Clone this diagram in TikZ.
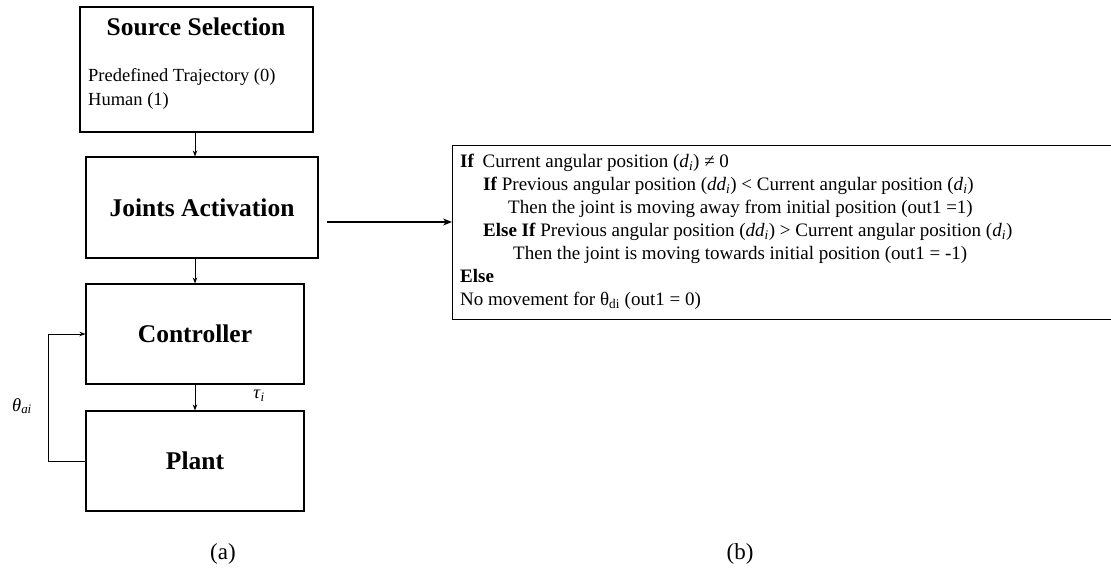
\documentclass[tikz,border=0pt]{standalone}
\usepackage{fontspec}
\setmainfont{Liberation Serif}
\usetikzlibrary{arrows.meta}

\newcommand{\itsub}[2]{\textit{#1}\textsubscript{\textit{#2}}}

\begin{document}
\begin{tikzpicture}[x=1pt,y=-1pt,
  block/.style={draw, line width=1.1pt, inner sep=0pt},
  title/.style={font=\fontsize{25.5}{28}\selectfont\bfseries},
  body/.style={font=\fontsize{18.5}{23}\selectfont},
  rule/.style={font=\fontsize{19}{23}\selectfont},
  caption/.style={font=\fontsize{23}{26}\selectfont},
  arr/.style={line width=0.8pt, -{Stealth[length=6pt,width=4.5pt]}}]
  \useasboundingbox (0,0) rectangle (1111,572);
  % (a) block diagram
  \node[block, minimum width=233pt, minimum height=125pt] (src) at (196.5,69.5) {};
  \node[title] (srct) at (196,27) {Source Selection};
  \node[body, anchor=base west, inner sep=0pt] (opt0) at (88,82) {Predefined Trajectory (0)};
  \node[body, anchor=base west, inner sep=0pt] (opt1) at (88,106) {Human (1)};
  \node[block, minimum width=232pt, minimum height=101pt, title] (jact) at (202,207.5) {Joints Activation};
  \node[block, minimum width=218pt, minimum height=100pt, title] (ctrl) at (195,334) {Controller};
  \node[block, minimum width=218pt, minimum height=100pt, title] (plant) at (195,461) {Plant};
  \draw[arr] (src.south -| ctrl) -- (jact.north -| ctrl);
  \draw[arr] (jact.south -| ctrl) -- (ctrl.north);
  \draw[arr] (ctrl.south) -- (plant.north);
  \draw[arr] (plant.west) -- ++(-37,0) |- (ctrl.west);
  \node[body] (tau) at (259,396) {\itsub{τ}{i}};
  \node[body] (theta) at (22,406) {\itsub{θ}{ai}};
  \node[caption] (capa) at (223,554) {(a)};
  % (b) joint logic
  \node[block, anchor=north west, minimum width=680pt, minimum height=174pt] (logic) at (452,145) {};
  \node[rule, anchor=north west, align=left, inner sep=0pt] (rules) at (460,154) {%
    \textbf{If}\hspace{0.45em}Current angular position (\itsub{d}{i}) ≠ 0\\
    \hspace{23pt}\textbf{If} Previous angular position (\itsub{dd}{i}) < Current angular position (\itsub{d}{i})\\
    \hspace{48pt}Then the joint is moving away from initial position (out1 =1)\\
    \hspace{23pt}\textbf{Else If} Previous angular position (\itsub{dd}{i}) > Current angular position (\itsub{d}{i})\\
    \hspace{53pt}Then the joint is moving towards initial position (out1 = -1)\\
    \textbf{Else}\\
    No movement for θ\textsubscript{di} (out1 = 0)};
  \coordinate (aout) at (327,222);
  \draw[line width=1.8pt, -{Stealth[length=9pt,width=7pt]}] (aout) -- (aout -| logic.west);
  \node[caption] (capb) at (740,554) {(b)};
\end{tikzpicture}
\end{document}
